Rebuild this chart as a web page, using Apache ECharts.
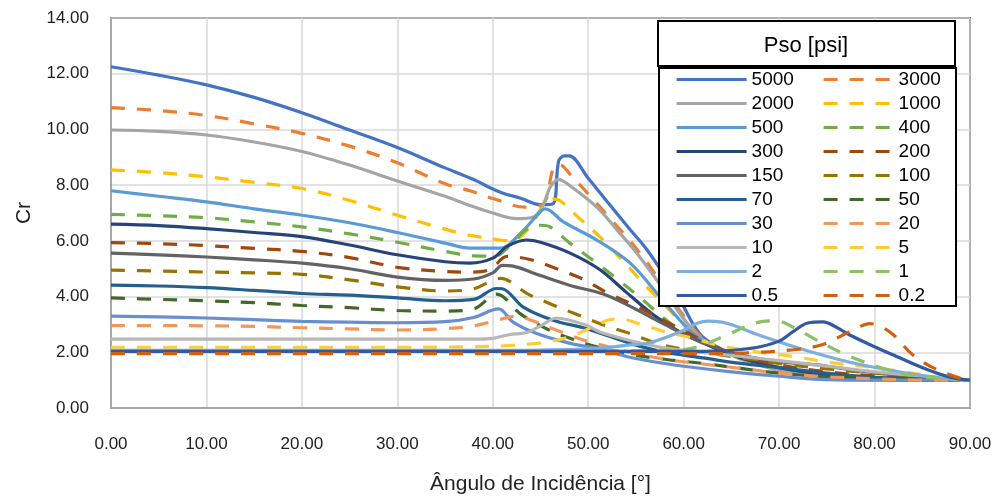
<!DOCTYPE html>
<html>
<head>
<meta charset="utf-8">
<script src="https://cdn.jsdelivr.net/npm/echarts@6/dist/echarts.min.js"></script>
<style>
html,body{margin:0;padding:0;background:#fff;}
#chart{width:1002px;height:500px;}
</style>
</head>
<body>
<div id="chart"></div>
<script>
// ---- data (angle of incidence [deg], Cr) ----
const xTicks = [0, 10, 20, 30, 40, 50, 60, 70, 80, 90];
const yTicks = [0, 2, 4, 6, 8, 10, 12, 14];
const seriesNames = ['5000','3000','2000','1000','500','400','300','200','150','100','70','50','30','20','10','5','2','1','0.5','0.2'];

const p5000 = [[0,12.25],[5,11.95],[10,11.6],[15,11.15],[20,10.6],[25,9.98],[30,9.35],[35,8.62],[38,8.2],[40,7.86],[41,7.72],[43,7.52],[45,7.3],[46.3,7.33],[46.9,8.86],[47.5,9.05],[48,9.05],[50,8.25],[52,7.4],[54.4,6.4],[56,5.75],[58,4.75],[59.6,3.9],[61,3.0],[62,2.55],[64,2.1],[66,1.8],[70,1.4],[75,1.15],[80,1.05],[85,1.0],[90,1.0]];
const p3000 = [[0,10.78],[5,10.68],[10,10.5],[15,10.2],[20,9.86],[25,9.4],[30,8.8],[35,8.05],[37.6,7.8],[40.2,7.5],[43.4,7.21],[45.3,7.33],[46.3,8.56],[46.9,8.75],[48.4,8.27],[50.5,7.5],[52.3,6.8],[54,6.15],[56,5.3],[58,4.3],[60,3.3],[62,2.5],[64,2.1],[66,1.8],[70,1.4],[75,1.15],[80,1.05],[85,1.0],[90,1.0]];
const p2000 = [[0,9.98],[5,9.93],[10,9.8],[15,9.55],[20,9.21],[25,8.72],[30,8.15],[35,7.6],[37.6,7.27],[40,7.0],[42.5,6.8],[44.3,6.86],[45.3,7.3],[46,7.92],[46.9,8.21],[48,8.0],[50.9,7.21],[53,6.4],[55,5.6],[58,4.2],[60,3.2],[62,2.45],[64,2.05],[66,1.75],[70,1.35],[75,1.1],[80,1.0],[85,1.0],[90,1.0]];
const p1000 = [[0,8.55],[5,8.45],[10,8.3],[15,8.1],[20,7.88],[25,7.45],[30,6.92],[35,6.42],[37.6,6.2],[40.8,6.03],[42,6.0],[43.5,6.35],[45.3,7.2],[46.5,7.5],[47.2,7.4],[49.1,6.8],[51.2,6.15],[53.5,5.33],[56,4.4],[58,3.7],[60,3.0],[62,2.45],[64,2.1],[66,1.8],[70,1.45],[75,1.2],[80,1.05],[85,1.0],[90,1.0]];
const p500  = [[0,7.8],[5,7.6],[10,7.4],[15,7.15],[20,6.92],[25,6.65],[30,6.3],[35,5.92],[37.6,5.74],[40.8,5.74],[42.9,6.27],[45.1,7.09],[45.5,7.15],[47.4,6.68],[50.9,6.03],[54.4,5.2],[57,4.2],[60,3.0],[62,2.4],[64,2.05],[66,1.8],[70,1.45],[75,1.2],[80,1.05],[85,1.0],[90,1.0]];
const p400  = [[0,6.95],[5,6.9],[10,6.83],[15,6.68],[20,6.5],[25,6.25],[30,5.95],[35,5.62],[38,5.46],[40.2,5.45],[42,5.9],[43.5,6.4],[45,6.56],[46,6.5],[48.1,5.91],[50.9,5.2],[53.3,4.56],[56,3.8],[58,3.2],[60,2.7],[62,2.35],[64,2.05],[66,1.8],[70,1.45],[75,1.2],[80,1.05],[85,1.0],[90,1.0]];
const p300  = [[0,6.6],[5,6.55],[10,6.44],[15,6.3],[20,6.15],[25,5.85],[30,5.5],[35,5.25],[37.6,5.2],[40,5.38],[41.5,5.8],[43.5,6.03],[45,5.95],[48.1,5.56],[51.2,4.97],[54,4.15],[57,3.3],[60,2.65],[62,2.35],[64,2.05],[66,1.8],[70,1.45],[75,1.2],[80,1.05],[85,1.0],[90,1.0]];
const p200  = [[0,5.94],[5,5.9],[10,5.83],[15,5.73],[20,5.62],[25,5.4],[30,5.05],[35,4.9],[37.6,4.88],[39.7,4.97],[41.5,5.44],[43.9,5.33],[46.7,5.0],[49.5,4.62],[51.9,4.15],[54.9,3.68],[58.2,3.09],[60.3,2.73],[62,2.4],[64,2.1],[66,1.85],[70,1.55],[75,1.3],[80,1.15],[85,1.05],[90,1.0]];
const p150  = [[0,5.56],[5,5.5],[10,5.42],[15,5.32],[20,5.2],[25,5.0],[30,4.7],[35,4.58],[38,4.63],[40,4.85],[41,5.12],[42,5.1],[44.6,4.8],[48.1,4.4],[51.5,4.1],[54.4,3.65],[58,3.0],[61.7,2.38],[64,2.1],[66,1.9],[69.7,1.67],[74,1.55],[78,1.35],[82,1.2],[86,1.1],[90,1.0]];
const p100  = [[0,4.95],[5,4.92],[10,4.88],[15,4.85],[20,4.8],[25,4.6],[30,4.35],[35,4.2],[37.9,4.27],[39.5,4.5],[40.8,4.65],[43.7,4.09],[46.3,3.7],[49.1,3.32],[51.5,2.99],[54.4,2.67],[57.2,2.32],[60,2.1],[62,2.0],[66,1.8],[70,1.6],[75,1.4],[80,1.25],[85,1.1],[90,1.0]];
const p70   = [[0,4.41],[5,4.38],[10,4.32],[15,4.22],[20,4.11],[25,4.05],[30,3.95],[35,3.85],[38,3.9],[40.4,4.29],[41,4.28],[43.2,3.62],[46.3,3.15],[49.8,2.85],[54.4,2.32],[58,2.0],[62,1.8],[66,1.6],[70,1.45],[75,1.25],[80,1.1],[85,1.05],[90,1.0]];
const p50   = [[0,3.95],[5,3.9],[10,3.85],[15,3.78],[20,3.68],[25,3.6],[30,3.5],[35,3.48],[38,3.56],[40.4,4.09],[42.9,3.38],[45.6,2.85],[48.1,2.5],[50.9,2.2],[54,1.95],[58,1.75],[62,1.6],[66,1.42],[70,1.25],[75,1.12],[80,1.05],[85,1.0],[90,1.0]];
const p30   = [[0,3.3],[5,3.27],[10,3.23],[15,3.17],[20,3.11],[25,3.08],[30,3.06],[35,3.1],[38,3.25],[40.6,3.56],[42.1,3.09],[44.6,2.67],[48.1,2.32],[51.5,2.1],[54,1.85],[57,1.65],[60,1.5],[65,1.3],[70,1.14],[75,1.02],[80,1.0],[85,1.0],[90,1.0]];
const p20   = [[0,2.96],[5,2.96],[10,2.95],[15,2.93],[20,2.88],[25,2.84],[30,2.8],[35,2.85],[38,2.95],[41,3.2],[42.5,3.3],[44,3.15],[46.7,2.79],[49.5,2.44],[52.6,2.15],[55,1.95],[58,1.75],[62,1.58],[66,1.42],[70,1.25],[75,1.12],[80,1.05],[85,1.0],[90,1.0]];
const p10   = [[0,2.47],[10,2.47],[20,2.47],[30,2.47],[38,2.47],[40,2.5],[41.8,2.64],[43.6,2.71],[45,2.95],[46.7,3.23],[48,3.15],[49.8,2.97],[51.2,2.73],[54.9,2.38],[58.2,2.15],[62,2.0],[66,1.85],[70,1.7],[75,1.5],[80,1.3],[85,1.15],[90,1.0]];
const p5    = [[0,2.18],[10,2.18],[20,2.18],[30,2.18],[38,2.2],[41.1,2.23],[44.6,2.32],[47.7,2.52],[50.5,2.91],[52,3.15],[53.3,3.2],[55.8,2.97],[58.2,2.73],[61,2.5],[63.5,2.26],[67,2.05],[71.5,1.85],[75,1.65],[80,1.45],[85,1.2],[90,1.0]];
const p2    = [[0,2.07],[10,2.07],[20,2.07],[30,2.07],[40,2.07],[48,2.1],[51.2,2.15],[54,2.25],[56.5,2.35],[59.6,2.73],[61.5,3.05],[62.5,3.12],[64,3.08],[65.2,2.97],[68,2.6],[73.2,2.03],[78.5,1.56],[85.5,1.14],[90,1.0]];
const p1    = [[0,2.05],[10,2.05],[20,2.05],[30,2.05],[40,2.05],[50,2.05],[58,2.07],[60,2.1],[62,2.26],[64.5,2.62],[68,3.09],[69.7,3.13],[71.5,2.9],[73.6,2.5],[77.4,1.85],[82,1.32],[85.5,1.1],[90,1.0]];
const p05   = [[0,2.03],[10,2.03],[20,2.03],[30,2.03],[40,2.03],[50,2.03],[60,2.03],[64,2.05],[66,2.1],[68,2.2],[70,2.4],[71.5,2.75],[73,3.05],[74.6,3.09],[76,2.9],[77.4,2.62],[80,2.2],[81.9,1.91],[85.5,1.38],[88,1.1],[90,1.0]];
const p02   = [[0,1.95],[10,1.95],[20,1.95],[30,1.95],[40,1.95],[50,1.95],[62,1.95],[66.6,1.98],[71.5,2.09],[74.3,2.25],[76,2.5],[78,2.85],[79.5,3.03],[80.5,2.95],[82,2.62],[84,1.91],[86.9,1.32],[90,0.97]];

const seriesData = [p5000,p3000,p2000,p1000,p500,p400,p300,p200,p150,p100,p70,p50,p30,p20,p10,p5,p2,p1,p05,p02];
const colors = ['#4472C4','#ED7D31','#A5A5A5','#FFC000','#5B9BD5','#70AD47','#264478','#9E480E','#636363','#997300','#255E91','#43682B','#698ED0','#F1975A','#B7B7B7','#FFCD33','#7CAFDD','#8CC168','#335AA1','#D26012'];

const FONT = 'Liberation Sans, Arial, sans-serif';
const series = seriesData.map((d, i) => ({
  name: seriesNames[i],
  type: 'line',
  data: d,
  smooth: 0.35,
  symbol: 'none',
  showSymbol: false,
  lineStyle: {
    color: colors[i],
    width: 3.2,
    type: (i % 2 === 1) ? [14, 12] : 'solid'
  },
  itemStyle: { color: colors[i] },
  emphasis: { disabled: true },
  z: 2
}));

const legendCommon = {
  orient: 'vertical',
  itemWidth: 70,
  itemHeight: 16,
  itemGap: 5,
  top: 70,
  padding: 0,
  itemStyle: { opacity: 0 },
  lineStyle: { width: 3.2 },
  textStyle: { fontFamily: FONT, fontSize: 19, lineHeight: 19, color: '#000' },
  selectedMode: false,
  z: 6
};

const chart = echarts.init(document.getElementById('chart'), null, { renderer: 'canvas' });
chart.setOption({
  animation: false,
  backgroundColor: '#fff',
  color: colors,
  grid: {
    left: 111, right: 32, top: 18, bottom: 86,
    show: true, borderColor: '#000', borderWidth: 1.5, backgroundColor: 'transparent'
  },
  xAxis: {
    type: 'value', min: xTicks[0], max: xTicks[xTicks.length-1], interval: 10,
    name: 'Ângulo de Incidência [°]', nameLocation: 'middle', nameGap: 66,
    nameTextStyle: { fontFamily: FONT, fontSize: 21, color: '#222' },
    axisLine: { show: true, lineStyle: { color: '#A6A6A6', width: 2 } },
    axisTick: { show: false },
    splitLine: { show: true, lineStyle: { color: '#D9D9D9', width: 1.5 } },
    axisLabel: { fontFamily: FONT, fontSize: 17, color: '#222', margin: 28,
      formatter: v => v.toFixed(2) }
  },
  yAxis: {
    type: 'value', min: yTicks[0], max: yTicks[yTicks.length-1], interval: 2,
    name: 'Cr', nameLocation: 'middle', nameGap: 76,
    nameTextStyle: { fontFamily: FONT, fontSize: 21, color: '#222' },
    axisLine: { show: true, lineStyle: { color: '#A6A6A6', width: 2 } },
    axisTick: { show: false },
    splitLine: { show: true, lineStyle: { color: '#D9D9D9', width: 1.5 } },
    axisLabel: { fontFamily: FONT, fontSize: 17, color: '#222', margin: 22,
      formatter: v => v.toFixed(2) }
  },
  legend: [
    Object.assign({}, legendCommon, { left: 675, data: seriesNames.filter((n, i) => i % 2 === 0) }),
    Object.assign({}, legendCommon, { left: 822, data: seriesNames.filter((n, i) => i % 2 === 1) })
  ],
  graphic: [
    { type: 'rect', z: 5, shape: { x: 658, y: 21, width: 297, height: 45 },
      style: { fill: '#fff', stroke: '#000', lineWidth: 2 } },
    { type: 'text', z: 6, x: 806, y: 46,
      style: { text: 'Pso [psi]', fontFamily: FONT, fontSize: 22, fill: '#000', textAlign: 'center', textVerticalAlign: 'middle' } },
    { type: 'rect', z: 5, shape: { x: 659, y: 68, width: 297, height: 238 },
      style: { fill: '#fff', stroke: '#000', lineWidth: 2 } }
  ],
  series: series
});
</script>
</body>
</html>
